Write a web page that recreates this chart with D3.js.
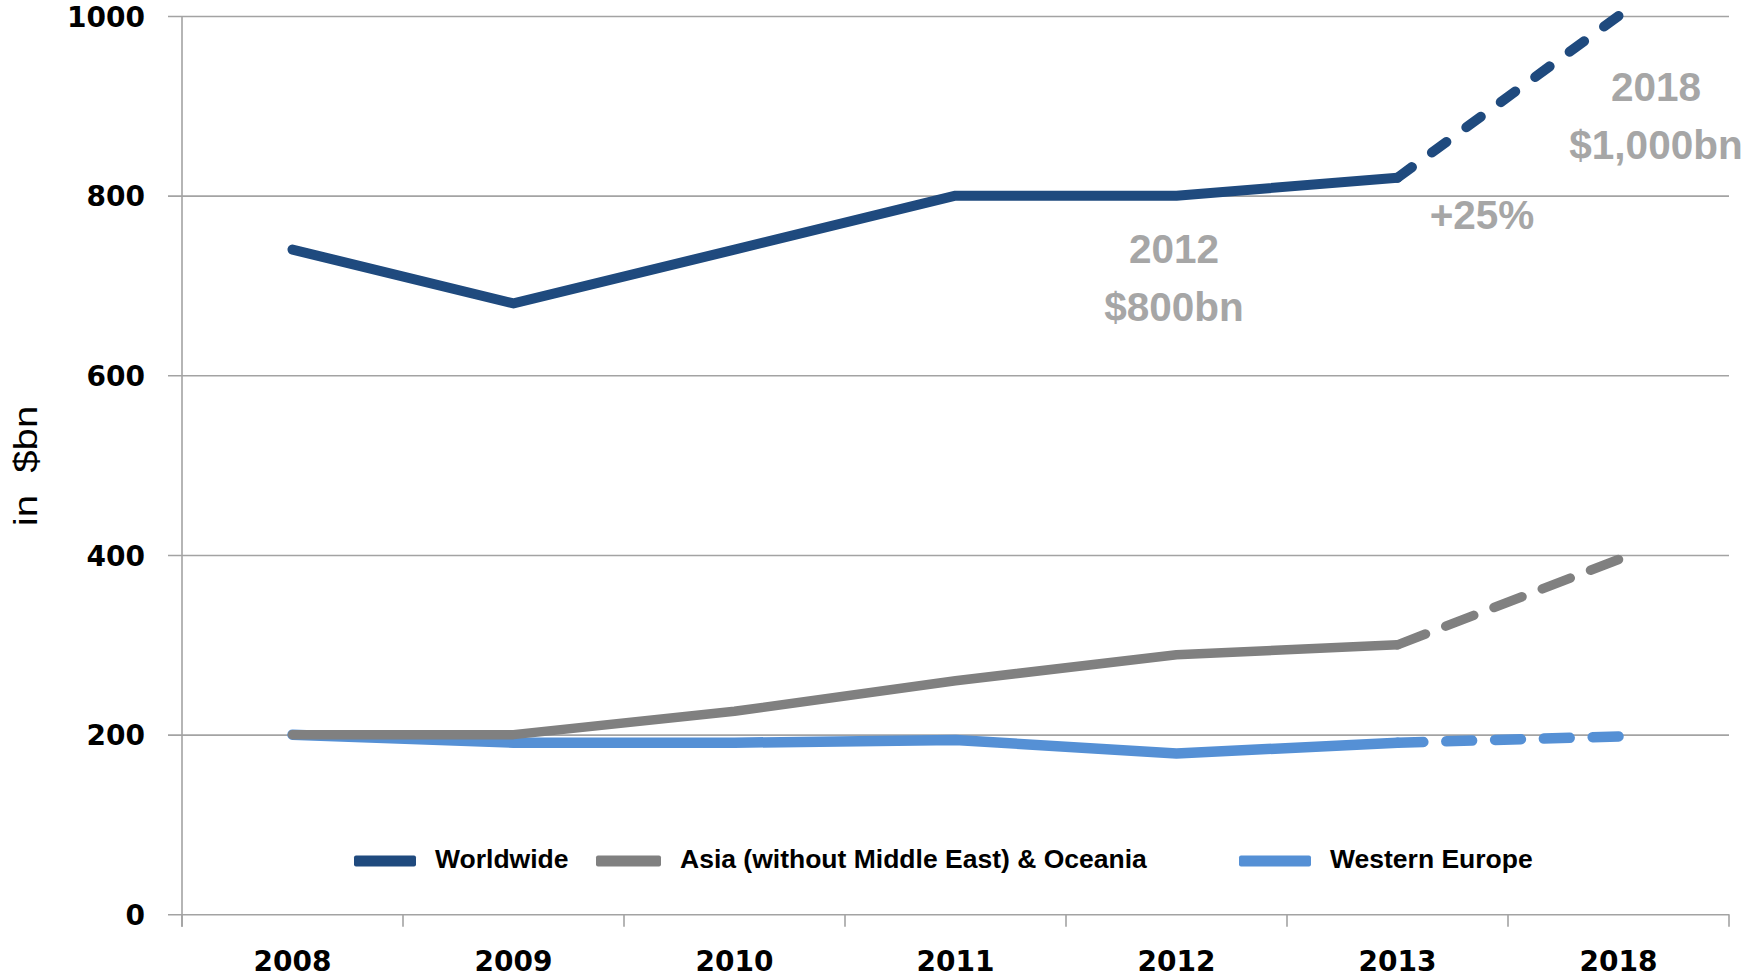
<!DOCTYPE html>
<html>
<head>
<meta charset="utf-8">
<script src="https://cdn.jsdelivr.net/npm/d3@7"></script>
<style>
  html, body { margin: 0; padding: 0; background: #ffffff; }
  svg { display: block; }
</style>
</head>
<body>
<svg id="chart" width="1750" height="980"></svg>
<script>
// Market volume in $bn, 2008–2013 actuals and 2018 projection
const years = ["2008", "2009", "2010", "2011", "2012", "2013", "2018"];
const worldwide = [740, 680, 740, 800, 800, 820, 1000];
const asiaOceania = [200, 200, 226, 260, 289, 300, 395];
const westernEurope = [200, 191, 191, 194, 179, 191, 198];
const yTicks = [0, 200, 400, 600, 800, 1000];
const seriesNames = ["Worldwide", "Asia (without Middle East) & Oceania", "Western Europe"];
const callouts = [
  { lines: ["2012", "$800bn"] },
  { lines: ["+25%"] },
  { lines: ["2018", "$1,000bn"] }
];

const svg = d3.select("#chart");
const plotLeft = 182, plotRight = 1729, plotTop = 16, plotBottom = 914.3;

const x = d3.scaleBand().domain(years).range([plotLeft, plotRight]);
const y = d3.scaleLinear().domain([0, 1000]).range([plotBottom, plotTop]);

const gridColor = "#a3a3a3";

// Horizontal gridlines with value labels
const yAxis = svg.append("g")
  .attr("transform", `translate(${plotLeft - 14},0)`)
  .call(d3.axisLeft(y).tickValues(yTicks).tickFormat(d3.format("d"))
    .tickSizeInner(-(plotRight - plotLeft + 14)).tickSizeOuter(0).tickPadding(23));
yAxis.select(".domain").remove();
yAxis.selectAll(".tick line").attr("stroke", gridColor).attr("stroke-width", 1.6);
yAxis.selectAll(".tick text")
  .attr("font-family", "'DejaVu Sans', sans-serif")
  .attr("font-weight", "bold")
  .attr("font-size", 28)
  .attr("fill", "#000")
  .attr("dy", "0.36em");

// Vertical axis line
svg.append("line")
  .attr("x1", plotLeft).attr("x2", plotLeft)
  .attr("y1", y(1000)).attr("y2", plotBottom + 12.5)
  .attr("stroke", gridColor).attr("stroke-width", 1.6);

// Category labels
const xAxis = svg.append("g")
  .attr("transform", `translate(0,${plotBottom})`)
  .call(d3.axisBottom(x).tickSize(0).tickPadding(37));
xAxis.select(".domain").remove();
xAxis.selectAll(".tick text")
  .attr("font-family", "'DejaVu Sans', sans-serif")
  .attr("font-weight", "bold")
  .attr("font-size", 28)
  .attr("fill", "#000");

// Tick marks between categories
const boundaries = years.map(d => x(d)).concat([x.range()[1]]);
svg.append("g").selectAll("line")
  .data(boundaries)
  .join("line")
  .attr("x1", d => d).attr("x2", d => d)
  .attr("y1", plotBottom).attr("y2", plotBottom + 12.5)
  .attr("stroke", gridColor).attr("stroke-width", 1.6);

// Series lines: solid through 2013, dashed projection to 2018
const series = [
  { name: seriesNames[0], values: worldwide, color: "#1f4a7e", width: 10, dash: [17, 23.5] },
  { name: seriesNames[1], values: asiaOceania, color: "#808080", width: 9.5, dash: [29, 21] },
  { name: seriesNames[2], values: westernEurope, color: "#5590d5", width: 10.5, dash: [27, 24] }
];

const line = d3.line()
  .x(d => x(d.year) + x.bandwidth() / 2)
  .y(d => y(d.value));

const lastActual = years.indexOf("2013");
const order = [2, 1, 0];
order.forEach(i => {
  const s = series[i];
  const pts = years.map((yr, k) => ({ year: yr, value: s.values[k] }));
  const proj = svg.append("path")
    .attr("d", line(pts.slice(lastActual)))
    .attr("fill", "none")
    .attr("stroke", s.color)
    .attr("stroke-width", s.width)
    .attr("stroke-linecap", "round");
  // stretch the dash pattern slightly so the projection both starts and ends on a dash
  const len = proj.node().getTotalLength();
  const [dash, gap] = s.dash;
  const n = Math.max(1, Math.round((len + gap) / (dash + gap)));
  const k = len / (n * (dash + gap) - gap);
  proj.attr("stroke-dasharray", `${dash * k} ${gap * k}`);

  svg.append("path")
    .attr("d", line(pts.slice(0, lastActual + 1)))
    .attr("fill", "none")
    .attr("stroke", s.color)
    .attr("stroke-width", s.width)
    .attr("stroke-linecap", "round")
    .attr("stroke-linejoin", "round");
});

// Legend
const legendX = [354, 596, 1239];
const legendW = [62, 65, 72];
const legendY = 861;
const legend = svg.append("g");
series.forEach((s, i) => {
  legend.append("rect")
    .attr("x", legendX[i]).attr("y", legendY - 5.5)
    .attr("width", legendW[i]).attr("height", 11)
    .attr("rx", 2)
    .attr("fill", s.color);
  legend.append("text")
    .attr("x", legendX[i] + legendW[i] + 19)
    .attr("y", legendY + 7)
    .attr("font-family", "'Liberation Sans', Arial, sans-serif")
    .attr("font-weight", "bold")
    .attr("font-size", 26.5)
    .attr("fill", "#000")
    .text(s.name);
});

// Axis title
svg.append("text")
  .attr("transform", "translate(37,466) rotate(-90) scale(1.18,1)")
  .attr("text-anchor", "middle")
  .attr("font-family", "'Liberation Sans', Arial, sans-serif")
  .attr("font-size", 34)
  .attr("fill", "#000")
  .style("white-space", "pre")
  .text("in  $bn");

// Callouts on the worldwide series
const calloutPos = [
  { cx: 1174, cy: [263, 321] },
  { cx: 1482, cy: [229] },
  { cx: 1656, cy: [101, 159] }
];
callouts.forEach((c, i) => {
  c.lines.forEach((t, j) => {
    svg.append("text")
      .attr("x", calloutPos[i].cx)
      .attr("y", calloutPos[i].cy[j])
      .attr("text-anchor", "middle")
      .attr("font-family", "'Liberation Sans', Arial, sans-serif")
      .attr("font-weight", "bold")
      .attr("font-size", 40.5)
      .attr("fill", "#a6a6a6")
      .text(t);
  });
});
</script>
</body>
</html>
